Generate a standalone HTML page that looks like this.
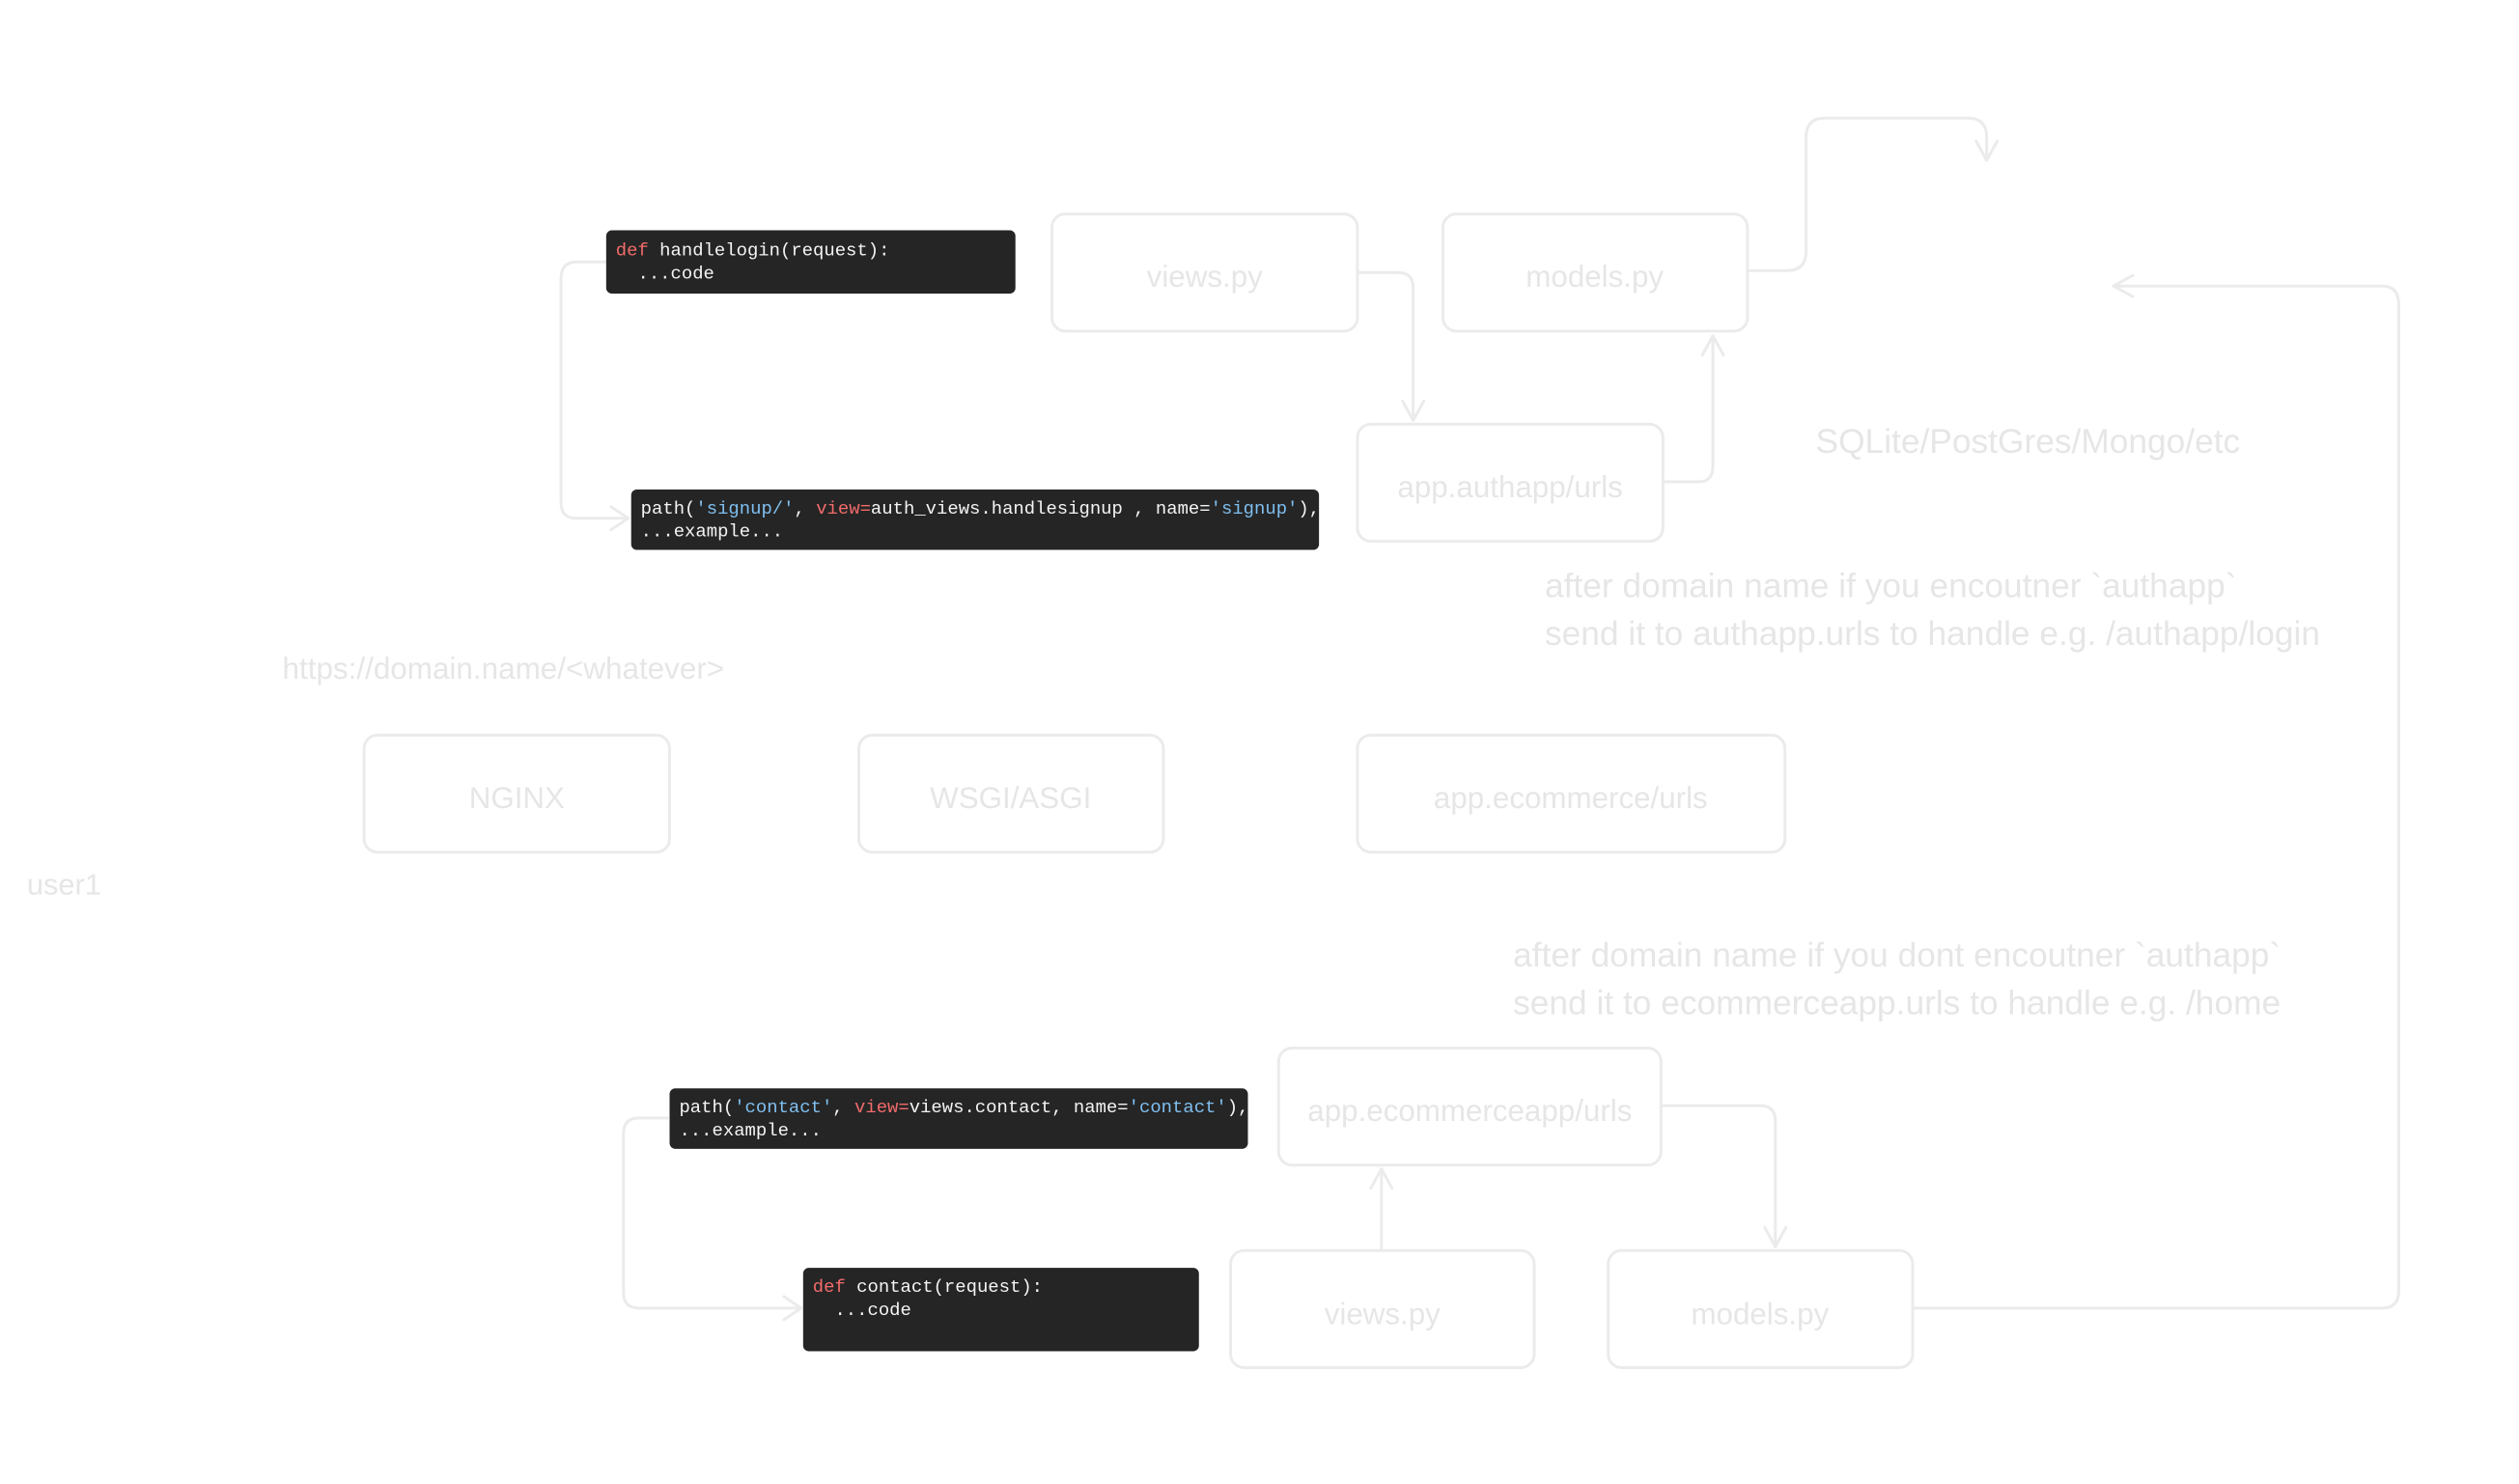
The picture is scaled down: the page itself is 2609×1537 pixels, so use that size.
<!DOCTYPE html>
<html><head><meta charset="utf-8"><style>
html,body{margin:0;padding:0;background:#fff;}
body{width:2609px;height:1537px;position:relative;overflow:hidden;}
#w{position:absolute;left:0;top:0;width:2609px;height:1537px;transform:scale(0.995,0.994);transform-origin:0 0;}
svg{position:absolute;left:0;top:0;}
.code{position:absolute;background:#252525;border-radius:6px;font-family:"Liberation Mono",monospace;font-size:19px;line-height:24px;color:#f4f4f4;padding:10px 10px;box-sizing:border-box;white-space:pre;}
.k{color:#f26b6b}.s{color:#7fbff0}
</style></head><body><div id="w">
<svg width="2609" height="1537" viewBox="0 0 2609 1537">
<g fill="none" stroke="#ebebeb" stroke-width="3" stroke-linecap="round" stroke-linejoin="round">
<rect x="1095" y="223" width="318" height="122" rx="14"/>
<rect x="1502" y="223" width="317" height="122" rx="14"/>
<rect x="1413" y="442" width="318" height="122" rx="14"/>
<rect x="379" y="766" width="318" height="122" rx="14"/>
<rect x="894" y="766" width="317" height="122" rx="14"/>
<rect x="1413" y="766" width="445" height="122" rx="14"/>
<rect x="1331" y="1092" width="398" height="122" rx="14"/>
<rect x="1281" y="1303" width="316" height="122" rx="14"/>
<rect x="1674" y="1303" width="317" height="122" rx="14"/>
<path d="M630 273 H600 Q584 273 584 290 V524 Q584 540 600 540 H652"/>
<path d="M636 528 L654 540 L636 552"/>
<path d="M1415 284 H1455 Q1471 284 1471 300 V438"/>
<path d="M1460 418 L1471 438 L1482 418"/>
<path d="M1733 502 H1768 Q1783 502 1783 486 V350"/>
<path d="M1772 370 L1783 350 L1794 370"/>
<path d="M1821 282 H1860 Q1880 282 1880 262 V143 Q1880 123 1900 123 H2048 Q2068 123 2068 143 V167"/>
<path d="M2057 147 L2068 167 L2079 147"/>
<path d="M1993 1363 H2480 Q2497 1363 2497 1345 V318 Q2497 298 2480 298 H2200"/>
<path d="M2220 287 L2200 298 L2220 309"/>
<path d="M695 1165 H665 Q649 1165 649 1181 V1347 Q649 1363 665 1363 H832"/>
<path d="M816 1351 L834 1363 L816 1375"/>
<path d="M1438 1301 V1218"/>
<path d="M1427 1238 L1438 1218 L1449 1238"/>
<path d="M1731 1152 H1832 Q1848 1152 1848 1168 V1299"/>
<path d="M1837 1279 L1848 1299 L1859 1279"/>
</g>
<g font-family="Liberation Sans, sans-serif" fill="#e6e6e6" font-size="31.5" text-anchor="middle">
<text x="1254" y="299">views.py</text>
<text x="1660" y="299">models.py</text>
<text x="1572" y="518">app.authapp/urls</text>
<text x="538" y="842">NGINX</text>
<text x="1052" y="842">WSGI/ASGI</text>
<text x="1635" y="842">app.ecommerce/urls</text>
<text x="1530" y="1168">app.ecommerceapp/urls</text>
<text x="1439" y="1380">views.py</text>
<text x="1832" y="1380">models.py</text>
</g>
<g font-family="Liberation Sans, sans-serif" fill="#e6e6e6" font-size="35.5">
<text x="1890" y="472">SQLite/PostGres/Mongo/etc</text>
<text x="1608" y="622">after domain name if you encoutner `authapp`</text>
<text x="1608" y="672">send it to authapp.urls to handle e.g. /authapp/login</text>
<text x="1575" y="1007">after domain name if you dont encoutner `authapp`</text>
<text x="1575" y="1057">send it to ecommerceapp.urls to handle e.g. /home</text>
<text x="294" y="707" font-size="31.6">https://domain.name/&lt;whatever&gt;</text>
<text x="28" y="932" font-size="31">user1</text>
</g>
</svg>
<div class="code" style="left:631px;top:240px;width:426px;height:66px;padding-top:9px"><span class="k">def</span> handlelogin(request):
  ...code</div>
<div class="code" style="left:657px;top:510px;width:716px;height:63px;padding-top:8px">path(<span class="s">'signup/'</span>, <span class="k">view=</span>auth_views.handlesignup , name=<span class="s">'signup'</span>),
...example...</div>
<div class="code" style="left:697px;top:1134px;width:602px;height:63px;padding-top:8px">path(<span class="s">'contact'</span>, <span class="k">view=</span>views.contact, name=<span class="s">'contact'</span>),
...example...</div>
<div class="code" style="left:836px;top:1321px;width:412px;height:87px;padding-top:8px"><span class="k">def</span> contact(request):
  ...code</div>
</div></body></html>
